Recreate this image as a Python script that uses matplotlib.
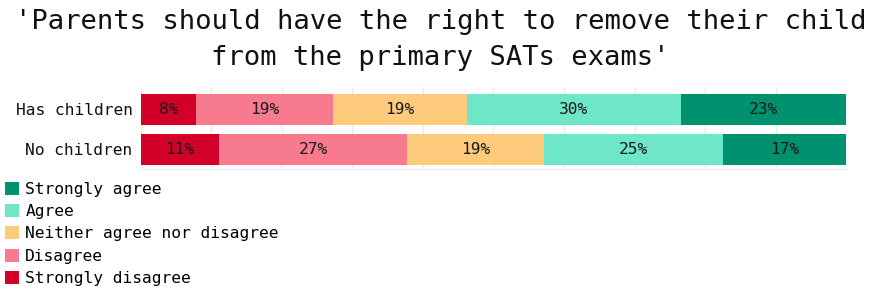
import numpy as np
import matplotlib
matplotlib.use("Agg")
import matplotlib.pyplot as plt

# Datos (porcentajes)
grupos = ["Has children", "No children"]
respuestas = ["Strongly disagree", "Disagree", "Neither agree nor disagree", "Agree", "Strongly agree"]
has_children = [7.8, 19.4, 19.0, 30.4, 23.4]
no_children = [11.0, 26.8, 19.4, 25.4, 17.4]
colores = ["#d20028", "#f87a8f", "#fecb7c", "#6ee6c8", "#00916e"]

titulo = "'Parents should have the right to remove their child\nfrom the primary SATs exams'"

plt.rcParams["font.family"] = "DejaVu Sans Mono"

fig = plt.figure(figsize=(8.81, 2.89), dpi=100)
ax = fig.add_axes([0.16, 0.415, 0.8003, 0.285])

valores = np.array([has_children, no_children])
y = np.arange(len(grupos))
izquierda = np.zeros(len(grupos))
for i, resp in enumerate(respuestas):
    barras = ax.barh(y, valores[:, i], left=izquierda, height=0.78,
                     color=colores[i], label=resp, zorder=2)
    for j, b in enumerate(barras):
        ax.text(izquierda[j] + valores[j, i] / 2, y[j], f"{valores[j, i]:.0f}%",
                ha="center", va="center", fontsize=11.7, color="#1a1a1a", zorder=3)
    izquierda += valores[:, i]

ax.set_xlim(0, 100)
ax.set_ylim(1.5, -0.57)
ax.set_yticks(y)
ax.set_yticklabels(grupos, fontsize=11.7, color="#111111")
ax.set_xticks(np.arange(0, 101, 10))
ax.set_xticklabels([])
ax.tick_params(length=0, pad=6)
ax.grid(axis="x", color="#ebebeb", linewidth=1, zorder=0)
for s in ["top", "left", "right"]:
    ax.spines[s].set_visible(False)
ax.spines["bottom"].set_color("#ebebeb")

fig.text(0.5, 0.97, titulo, ha="center", va="top", fontsize=19.6,
         linespacing=1.5, color="#111111")

handles, labels = ax.get_legend_handles_labels()
fig.legend(handles[::-1], labels[::-1], loc="upper left",
           bbox_to_anchor=(0.002, 0.382), frameon=False, fontsize=11.7,
           handlelength=0.85, handleheight=0.85, handletextpad=0.4,
           labelspacing=0.44, borderaxespad=0, borderpad=0.2)

fig.savefig("out.png", dpi=100)
